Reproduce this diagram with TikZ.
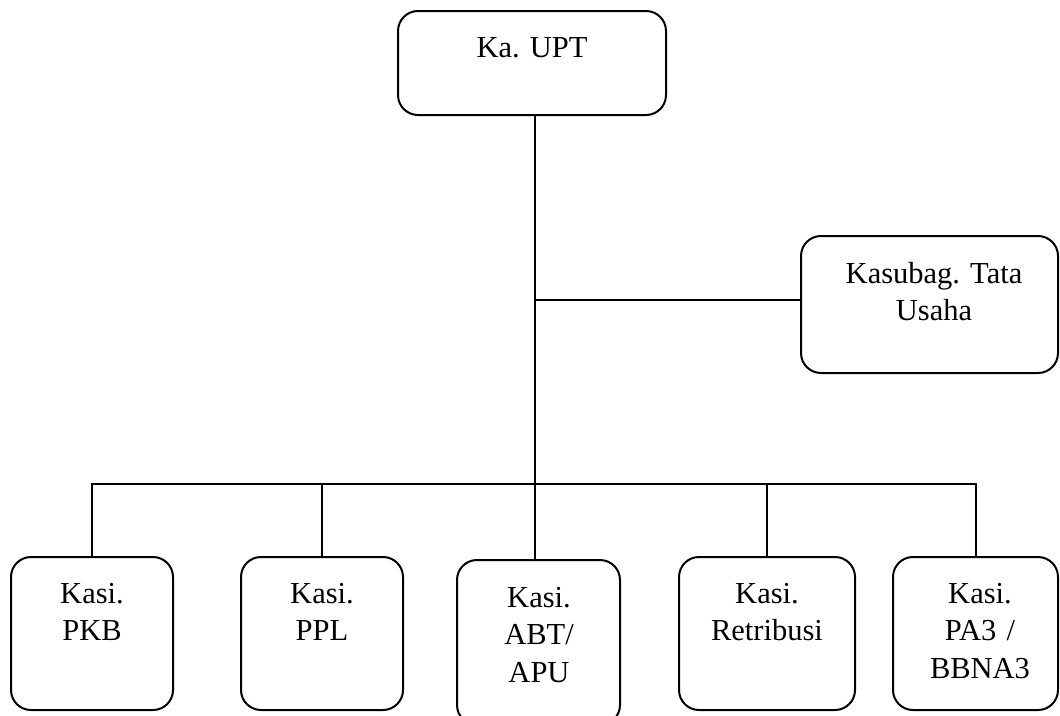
\documentclass[tikz,border=0pt]{standalone}
\usepackage{fontspec}
\setmainfont{Liberation Serif}
\frenchspacing

\begin{document}
\begin{tikzpicture}
      [x=1pt, y=-1pt,
       unit/.style={draw, line width=2pt, rounded corners=20pt, inner sep=0pt},
       caption/.style={anchor=base, inner sep=0pt, text width=240pt, align=center,
         font=\fontsize{30.5}{37.5}\selectfont},
       link/.style={line width=2pt}]
      \clip (0, 0) rectangle (1060, 715);

      % boxes
      \node (kaupt) [unit, minimum width=268pt, minimum height=104pt] at (532, 63) {};
      \node (kasubag) [unit, minimum width=257pt, minimum height=137pt] at (929.5, 304.5) {};
      \node (pkb) [unit, minimum width=162pt, minimum height=153pt] at (92, 633.5) {};
      \node (ppl) [unit, minimum width=162pt, minimum height=153pt] at (322, 633.5) {};
      \node (abt) [unit, minimum width=163pt, minimum height=165pt] at (538.5, 642.5) {};
      \node (retribusi) [unit, minimum width=176pt, minimum height=153pt] at (767, 633.5) {};
      \node (pa3) [unit, minimum width=165pt, minimum height=153pt] at (975.5, 633.5) {};

      % texts
      \node (t-kaupt) [caption] at (532, 57) {Ka. UPT};
      \node (t-kasubag) [caption] at (934, 283) {Kasubag. Tata\\Usaha};
      \node (t-pkb) [caption, text width=150pt] at (92, 603) {Kasi.\\PKB};
      \node (t-ppl) [caption, text width=150pt] at (322, 603) {Kasi.\\PPL};
      \node (t-abt) [caption, text width=150pt] at (539, 607) {Kasi.\\ABT/\\APU};
      \node (t-retribusi) [caption, text width=150pt] at (767, 603) {Kasi.\\Retribusi};
      \node (t-pa3) [caption, text width=150pt] at (980, 603) {Kasi.\\PA3 /\\BBNA3};

      % lines
      \coordinate (trunk) at (535, 484);
      \coordinate (tu) at (535, 300);
      \draw [link] (kaupt.south -| trunk) -- (abt.north -| trunk);
      \draw [link] (tu) -- (tu -| kasubag.west);
      \draw [link] (pkb.north) -- (pkb.north |- trunk) -- (pa3.north |- trunk) -- (pa3.north);
      \draw [link] (ppl.north) -- (ppl.north |- trunk);
      \draw [link] (retribusi.north) -- (retribusi.north |- trunk);
\end{tikzpicture}
\end{document}
